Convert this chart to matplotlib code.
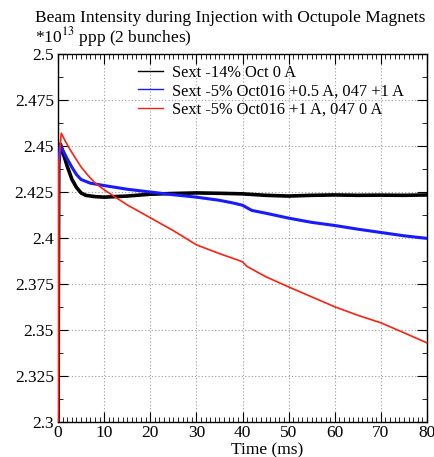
import matplotlib
matplotlib.use("Agg")
import matplotlib.pyplot as plt
from matplotlib.ticker import MultipleLocator

plt.rcParams['font.family'] = ['Liberation Serif', 'DejaVu Serif']

# Time samples (ms) and readings (*1e13 ppp)
t_black = [0.0, 0.15, 0.5, 1, 2, 3, 4, 5, 6, 8, 10, 15, 20, 25, 30, 35, 40, 45, 50, 55, 60, 65, 70, 75, 80]
v_black = [2.28, 2.44, 2.451, 2.447, 2.439, 2.432, 2.4275, 2.4245, 2.4232, 2.4225, 2.4222, 2.4228,
           2.4238, 2.4242, 2.4245, 2.4243, 2.4240, 2.4232, 2.4228, 2.4232, 2.4234, 2.4232, 2.4233,
           2.4232, 2.4234]

t_blue = [0.0, 0.15, 0.5, 1, 2, 3, 4, 5, 7, 10, 15, 20, 25, 30, 35, 38, 40, 42, 45, 50, 55, 60, 65, 70, 75, 80]
v_blue = [2.28, 2.44, 2.451, 2.448, 2.443, 2.4385, 2.4345, 2.4318, 2.4298, 2.4285, 2.4265, 2.4250,
          2.4235, 2.4222, 2.4205, 2.4190, 2.4178, 2.4150, 2.4135, 2.4108, 2.4085, 2.4068, 2.4048,
          2.4030, 2.4012, 2.3998]

t_red = [0.0, 0.15, 0.7, 1.5, 2.5, 3.5, 5, 6.5, 8, 10, 15, 20, 25, 30, 35, 39, 40, 41, 45, 50, 55, 60,
         65, 70, 75, 80]
v_red = [2.28, 2.44, 2.457, 2.453, 2.4485, 2.4445, 2.4386, 2.4340, 2.4300, 2.4262, 2.4180, 2.4110,
         2.4040, 2.3963, 2.3915, 2.3880, 2.3870, 2.3845, 2.3790, 2.3734, 2.3680, 2.3626, 2.3580,
         2.3539, 2.3485, 2.3430]

labels = ["Sext -14% Oct 0 A", "Sext -5% Oct016 +0.5 A, 047 +1 A", "Sext -5% Oct016 +1 A, 047 0 A"]
x_ticks = [0, 10, 20, 30, 40, 50, 60, 70, 80]
y_ticks = [2.3, 2.325, 2.35, 2.375, 2.4, 2.425, 2.45, 2.475, 2.5]
y_ticklabels = ["2.3", "2.325", "2.35", "2.375", "2.4", "2.425", "2.45", "2.475", "2.5"]

fig = plt.figure(figsize=(4.35, 4.57), dpi=100)
ax = fig.add_axes([58/435, 1 - 422/457, (427-58)/435, (422-54)/457])

ax.plot(t_black, v_black, color='black', lw=2.6, label=labels[0], zorder=3)
ax.plot(t_blue, v_blue, color='#1a1aff', lw=2.2, label=labels[1], zorder=4)
ax.plot(t_red, v_red, color='#ff2010', lw=1.2, label=labels[2], zorder=5)

ax.set_xlim(0, 80)
ax.set_ylim(2.3, 2.5)
ax.set_xticks(x_ticks)
ax.set_yticks(y_ticks)
ax.set_yticklabels(y_ticklabels)
ax.xaxis.set_minor_locator(MultipleLocator(1))
ax.yaxis.set_minor_locator(MultipleLocator(0.0125))
ax.tick_params(which='both', direction='in', top=True, right=True, labelsize=12.5)
ax.tick_params(axis='x', pad=2)
ax.tick_params(axis='y', pad=3)
ax.tick_params(which='major', length=7, width=0.8)
ax.tick_params(which='minor', length=3.5, width=0.6)
ax.grid(True, which='major', linestyle=(0, (1, 2)), color='#999999', lw=0.8)
for s in ax.spines.values():
    s.set_linewidth(1.0)

fig.text(267/435, 1 - 450/457, "Time (ms)", fontsize=12.5, ha='center', va='center')

leg = ax.legend(loc='upper left', bbox_to_anchor=(0.19, 0.997), frameon=False, fontsize=11.8,
                handlelength=1.5, handletextpad=0.55, labelspacing=0.14, borderaxespad=0.2)
for h in leg.get_lines():
    h.set_linewidth(1.0)

fig.text(35/435, 1 - 18/457, "Beam Intensity during Injection with Octupole Magnets",
         fontsize=12.5, ha='left', va='center')
fig.text(35/435, 1 - 37/457, r"*10$^{13}$ ppp (2 bunches)", fontsize=12.5, ha='left', va='center',
         math_fontfamily='stix')

fig.savefig("out.png", dpi=100)
